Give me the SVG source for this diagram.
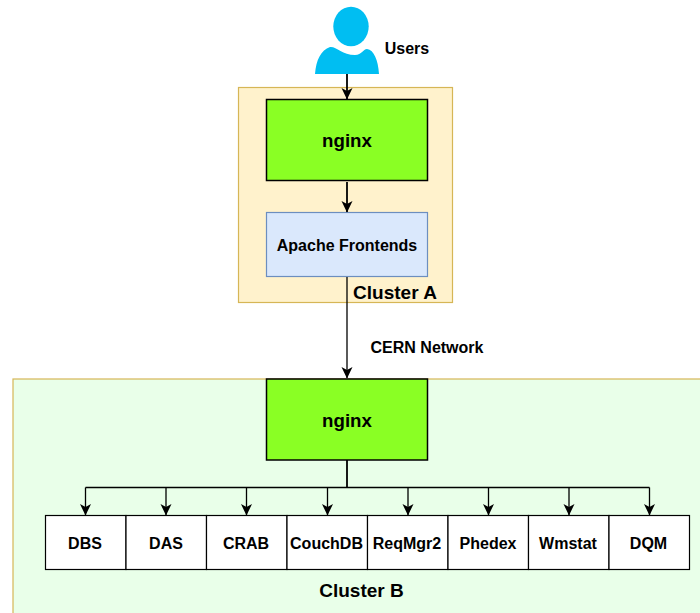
<svg xmlns="http://www.w3.org/2000/svg" width="700" height="613" viewBox="0 0 700 613">
<defs>
<marker id="arrow" viewBox="0 0 12 12" refX="11" refY="6" markerWidth="12" markerHeight="12" markerUnits="userSpaceOnUse" orient="auto"><path d="M0 0.500 L11.500 6 L0 11.500 L3 6 Z" fill="#000"/></marker>
</defs>
<style>
text{font-family:"Liberation Sans",Arial,sans-serif;font-weight:bold;fill:#000;text-anchor:middle}
.s{font-size:16px}.m{font-size:18.700px}.l{font-size:19px}
.g{fill:#8aff24;stroke:#000;stroke-width:1.500}
.w{fill:#fff;stroke:#000;stroke-width:1.200}
.c{fill:none;stroke:#000;stroke-width:1.300}
.t{stroke-width:1.800}
</style>
<g id="cluster-a"><rect x="238.500" y="87.500" width="214" height="215" fill="#fff2cc" stroke="#d6b656" stroke-width="1.200"/><text class="l" x="395" y="299">Cluster A</text></g>
<g id="cluster-b"><rect x="13" y="379" width="700" height="250" fill="#e9ffe9" stroke="#d6b656" stroke-width="1.200"/><text class="l" x="361.500" y="597">Cluster B</text></g>
<g id="users"><ellipse cx="351" cy="26.500" rx="17.700" ry="19.700" fill="#00bef2"/><path d="M315 74 C316 60 321 50 330 47 C336 46 342 55 355 55 C362 55 363 49 367 49 C374 50 378 60 379 74 Z" fill="#00bef2"/><text class="s" x="407" y="53.500">Users</text></g>
<g id="nginx-a"><rect class="g" x="266.500" y="99.500" width="161" height="81"/><text class="m" x="347" y="147">nginx</text></g>
<g id="apache"><rect x="266.500" y="212.500" width="161" height="64" fill="#dae8fc" stroke="#6c8ebf" stroke-width="1.200"/><text class="s" x="347" y="251">Apache Frontends</text></g>
<g id="nginx-b"><rect class="g" x="266.500" y="379" width="161" height="81"/><text class="m" x="347" y="427">nginx</text></g>
<g id="dbs"><rect class="w" x="45.500" y="515.500" width="80.500" height="54"/><text class="s" x="85" y="549">DBS</text></g>
<g id="das"><rect class="w" x="126" y="515.500" width="80.500" height="54"/><text class="s" x="166" y="549">DAS</text></g>
<g id="crab"><rect class="w" x="206.500" y="515.500" width="80.500" height="54"/><text class="s" x="246" y="549">CRAB</text></g>
<g id="couchdb"><rect class="w" x="287" y="515.500" width="80.500" height="54"/><text class="s" x="326.500" y="549">CouchDB</text></g>
<g id="reqmgr2"><rect class="w" x="367.500" y="515.500" width="80.500" height="54"/><text class="s" x="407" y="549">ReqMgr2</text></g>
<g id="phedex"><rect class="w" x="448" y="515.500" width="80.500" height="54"/><text class="s" x="488" y="549">Phedex</text></g>
<g id="wmstat"><rect class="w" x="528.500" y="515.500" width="80.500" height="54"/><text class="s" x="568" y="549">Wmstat</text></g>
<g id="dqm"><rect class="w" x="609" y="515.500" width="80.500" height="54"/><text class="s" x="648.500" y="549">DQM</text></g>
<g id="connectors">
<path class="c t" d="M347 74V99" marker-end="url(#arrow)"/>
<path class="c t" d="M347 182V212" marker-end="url(#arrow)"/>
<path class="c" d="M347 277V378" marker-end="url(#arrow)"/>
<path class="c t" d="M347 460V487.500"/>
<path class="c" d="M85.500 487.500H649.500"/>
<path class="c" d="M85.500 487.500V515" marker-end="url(#arrow)"/>
<path class="c" d="M166 487.500V515" marker-end="url(#arrow)"/>
<path class="c" d="M246.500 487.500V515" marker-end="url(#arrow)"/>
<path class="c" d="M327.500 487.500V515" marker-end="url(#arrow)"/>
<path class="c" d="M408 487.500V515" marker-end="url(#arrow)"/>
<path class="c" d="M488.500 487.500V515" marker-end="url(#arrow)"/>
<path class="c" d="M569 487.500V515" marker-end="url(#arrow)"/>
<path class="c" d="M649.500 487.500V515" marker-end="url(#arrow)"/>
<text class="s" x="427" y="353">CERN Network</text>
</g>
</svg>
